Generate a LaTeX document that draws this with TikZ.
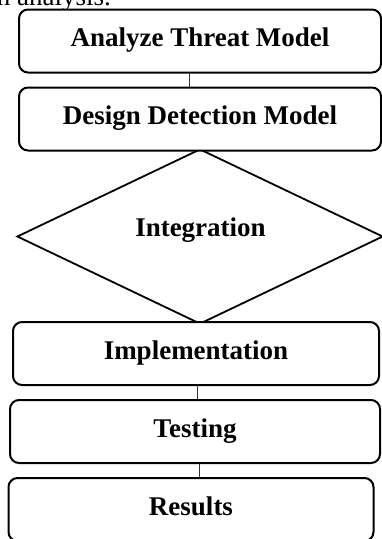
\documentclass[tikz,border=0pt]{standalone}
\usepackage{fontspec}
\setmainfont{Liberation Serif}
\usetikzlibrary{shapes.geometric}
\begin{document}
\begin{tikzpicture}[x=1pt,y=-1pt,
  stepbox/.style={draw, line width=2pt, rounded corners=9pt, fill=white,
    minimum height=63pt, inner sep=0pt,
    font=\fontsize{27}{31}\selectfont\bfseries,
    text height=18.5pt, text depth=7.5pt},
  decision/.style={draw, line width=1.8pt, shape=diamond, inner sep=0pt,
    minimum width=366pt, minimum height=175pt},
  link/.style={draw=black!80, line width=1pt}]
\useasboundingbox (0,0) rectangle (382,539);
\clip (0,0) rectangle (382,539);

% tail of the preceding sentence
\node[anchor=base east, inner sep=0pt, font=\fontsize{27}{31}\selectfont]
  (prev) at (111,5) {on analysis.};

% decision shape first, so the boxes sit on its tips
\node[decision] (integ) at (200,236.5) {};
\node[anchor=base, inner sep=0pt, font=\fontsize{27}{31}\selectfont\bfseries]
  (integlabel) at (200.5,236) {Integration};

\node[stepbox, minimum width=362pt] (threat) at (200,41) {Analyze Threat Model};
\node[stepbox, minimum width=362pt] (design) at (200,119) {Design Detection Model};
\node[stepbox, minimum width=366pt] (impl)   at (196,353.5) {Implementation};
\node[stepbox, minimum width=370pt] (test)   at (195,431.5) {Testing};
\node[stepbox, minimum width=365pt] (res)    at (191,509.5) {Results};

% connectors
\draw[link] ([xshift=-11pt]threat.south) -- ([xshift=-11pt]design.north);
\draw[link] ([xshift=1.5pt]impl.south) -- ([xshift=1.5pt]impl.south |- test.north);
\draw[link] ([xshift=4pt]test.south) -- ([xshift=4pt]test.south |- res.north);
\end{tikzpicture}
\end{document}
